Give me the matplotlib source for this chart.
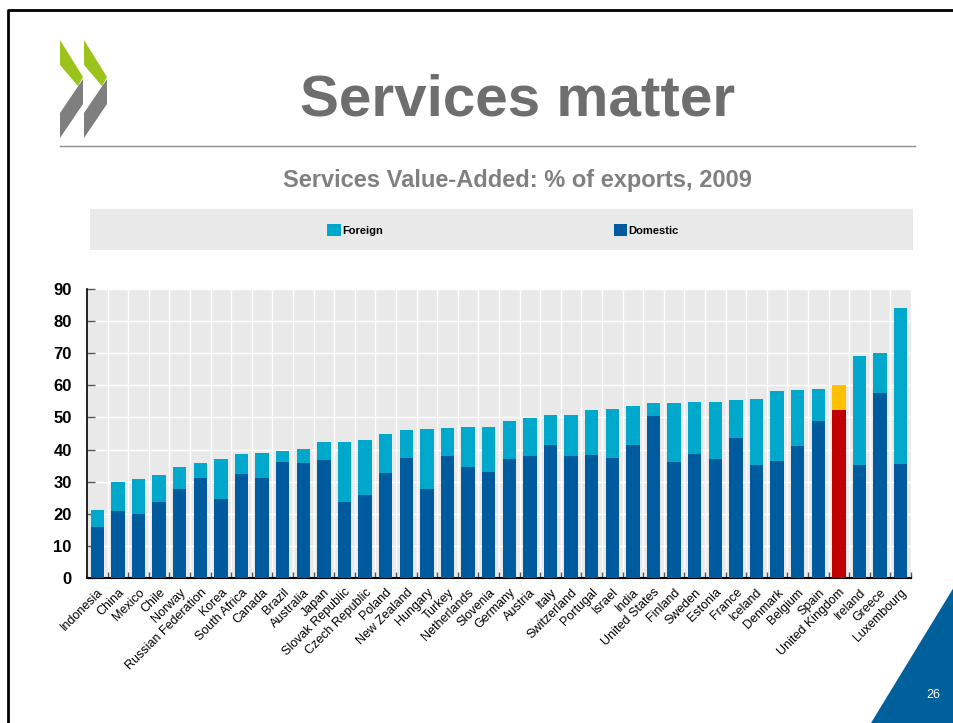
import numpy as np
import matplotlib.pyplot as plt
from matplotlib.patches import Polygon, Rectangle

countries = ["Indonesia", "China", "Mexico", "Chile", "Norway", "Russian Federation",
             "Korea", "South Africa", "Canada", "Brazil", "Australia", "Japan",
             "Slovak Republic", "Czech Republic", "Poland", "New Zealand", "Hungary",
             "Turkey", "Netherlands", "Slovenia", "Germany", "Austria", "Italy",
             "Switzerland", "Portugal", "Israel", "India", "United States", "Finland",
             "Sweden", "Estonia", "France", "Iceland", "Denmark", "Belgium", "Spain",
             "United Kingdom", "Ireland", "Greece", "Luxembourg"]
domestic = [15.9, 20.9, 20.0, 23.7, 27.7, 31.2, 24.6, 32.4, 31.2, 36.1, 35.8, 36.8,
            23.8, 25.9, 32.7, 37.4, 27.7, 38.0, 34.5, 33.0, 37.1, 38.1, 41.4, 37.9,
            38.4, 37.4, 41.4, 50.6, 36.2, 38.5, 37.0, 43.6, 35.2, 36.4, 41.1, 48.9,
            52.2, 35.2, 57.6, 35.4]
foreign = [5.4, 9.1, 10.7, 8.3, 7.0, 4.7, 12.6, 6.3, 7.8, 3.6, 4.3, 5.4,
           18.7, 17.1, 12.2, 8.8, 18.6, 8.6, 12.6, 14.1, 11.8, 11.7, 9.4, 13.0,
           14.0, 15.2, 12.2, 3.9, 18.4, 16.3, 17.9, 11.7, 20.4, 21.8, 17.4, 9.9,
           7.8, 33.9, 12.5, 48.6]
highlight = "United Kingdom"

W, H = 954, 723
fig = plt.figure(figsize=(W / 100, H / 100), dpi=100)
plt.rcParams['font.family'] = ['Liberation Sans', 'DejaVu Sans']

# slide decorations in pixel coordinates
bg = fig.add_axes([0, 0, 1, 1])
bg.set_xlim(0, W)
bg.set_ylim(H, 0)
bg.axis('off')

bg.plot([8, 8, W], [H, 10, 10], color='black', lw=2)

for dx in (0, 24):
    bg.add_patch(Polygon([(60 + dx, 40), (83 + dx, 77), (78 + dx, 86), (60 + dx, 65)],
                         closed=True, color='#9bc31c', lw=0))
    bg.add_patch(Polygon([(83 + dx, 79), (83 + dx, 104), (60 + dx, 138), (60 + dx, 113)],
                         closed=True, color='#7f7f7f', lw=0))

bg.text(518, 100, "Services matter", ha='center', va='center', fontsize=42,
        fontweight='bold', color='#6e6e6e')
bg.plot([60, 915], [146, 146], color='#8c8c8c', lw=1)
bg.text(517, 180, "Services Value-Added: % of exports, 2009", ha='center', va='center',
        fontsize=17, fontweight='bold', color='#808080')
bg.add_patch(Rectangle((90, 209), 823, 41, color='#e9e9e9', lw=0))

bg.add_patch(Polygon([(W, 587), (W, H), (871, H)], closed=True, color='#00609c', lw=0))
bg.text(933, 695, "26", ha='center', va='center', fontsize=9, color='white')

# chart
ax = fig.add_axes([87 / W, 1 - 578 / H, (911 - 87) / W, (578 - 289) / H])
ax.set_facecolor('#e9e9e9')
x = np.arange(len(countries))
dom_colors = ['#c00000' if c == highlight else '#005a9e' for c in countries]
for_colors = ['#ffc000' if c == highlight else '#00a9cc' for c in countries]
b_for = ax.bar(x, foreign, 0.65, bottom=domestic, color=for_colors, zorder=3,
               label='Foreign')
b_dom = ax.bar(x, domestic, 0.65, color=dom_colors, zorder=3, label='Domestic')

ax.set_xlim(-0.5, len(countries) - 0.5)
ax.set_ylim(0, 90)
ax.set_yticks(range(0, 91, 10))
ax.set_xticks(x + 0.5, minor=True)
ax.set_xticks(x)
ax.set_xticklabels(countries, rotation=45, ha='right', rotation_mode='anchor',
                   fontsize=9)
ax.tick_params(axis='x', which='major', length=0, pad=6)
ax.tick_params(axis='x', which='minor', direction='in', length=4, width=1,
               color='#555555')
ax.tick_params(axis='y', direction='in', length=6, width=1, color='#555555',
               labelsize=12, pad=11)
for lab in ax.get_yticklabels():
    lab.set_fontweight('bold')
ax.grid(axis='y', color='white', lw=1, zorder=0)
ax.grid(axis='x', which='minor', color='white', lw=1, zorder=0)
for s in ('top', 'right'):
    ax.spines[s].set_visible(False)
ax.spines['left'].set_linewidth(1.2)
ax.spines['bottom'].set_linewidth(1.5)

fig.legend(handles=[b_for, b_dom], loc='center', bbox_to_anchor=(503 / W, 1 - 230 / H),
           ncol=2, frameon=False, prop={'weight': 'bold', 'size': 8},
           handlelength=1.2, handleheight=1.2, handletextpad=0.1, columnspacing=20.8)

fig.savefig('out.png', dpi=100)
